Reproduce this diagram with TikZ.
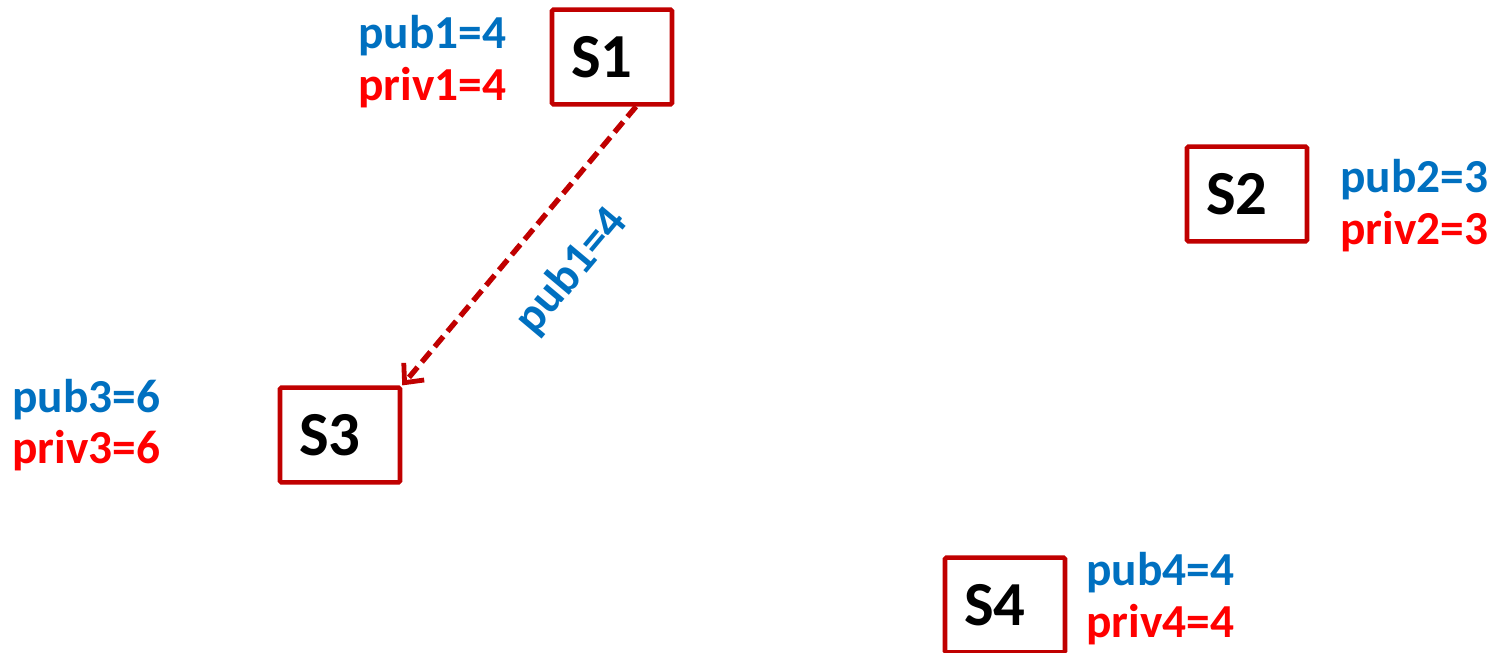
\documentclass[tikz,border=0pt]{standalone}
\usepackage{fontspec}
\setmainfont{Carlito}
\usetikzlibrary{arrows.meta,calc}
\definecolor{boxred}{RGB}{192,0,0}
\definecolor{pubblue}{RGB}{0,112,192}
\definecolor{privred}{RGB}{255,0,0}
\tikzset{
  server/.style={draw=boxred, line width=3.4pt, fill=white, minimum width=90pt, minimum height=71pt,
    inner sep=0pt, rounded corners=1pt},
  servername/.style={font=\fontsize{47}{50}\selectfont\bfseries, inner sep=0pt},
  keyfont/.style={font=\fontsize{35.5}{38}\selectfont\bfseries},
  pubtxt/.style={keyfont, text=pubblue, anchor=base west, inner sep=0pt},
  privtxt/.style={keyfont, text=privred, anchor=base west, inner sep=0pt},
  send/.style={draw=boxred, line width=4pt, dash pattern=on 10pt off 5pt,
    -{Straight Barb[length=11pt,width=20pt,line width=3.6pt]}}
}
\begin{document}
\begin{tikzpicture}[x=0.75pt,y=-0.75pt]
\useasboundingbox (0,0) rectangle (1492,653);
% servers (frames), names set slightly left of centre
\node[server] (S1) at (612,57) {};
\node[server] (S2) at (1247,194) {};
\node[server] (S3) at (340,435) {};
\node[server] (S4) at (1005,605) {};
\node[servername] (n1) at ($(S1.center)+(-10,0)$) {S1};
\node[servername] (n2) at ($(S2.center)+(-10,0)$) {S2};
\node[servername] (n3) at ($(S3.center)+(-10,0)$) {S3};
\node[servername] (n4) at ($(S4.center)+(-10,0)$) {S4};
% key annotations
\node[pubtxt] (p1) at (358,48) {pub1=4};
\node[privtxt] (q1) at (358,100) {priv1=4};
\node[pubtxt] (p2) at (1340,192) {pub2=3};
\node[privtxt] (q2) at (1340,244) {priv2=3};
\node[pubtxt] (p3) at (12,412) {pub3=6};
\node[privtxt] (q3) at (12,463) {priv3=6};
\node[pubtxt] (p4) at (1086,585) {pub4=4};
\node[privtxt] (q4) at (1086,637) {priv4=4};
% public key sent from S1 to S3
\coordinate (src) at ($(S1.south)+(24,0)$);
\draw[send] (src) -- (S3.north east)
  node[pos=0.46, sloped, below=22pt, text=pubblue, keyfont] (m) {pub1=4};
\end{tikzpicture}
\end{document}
